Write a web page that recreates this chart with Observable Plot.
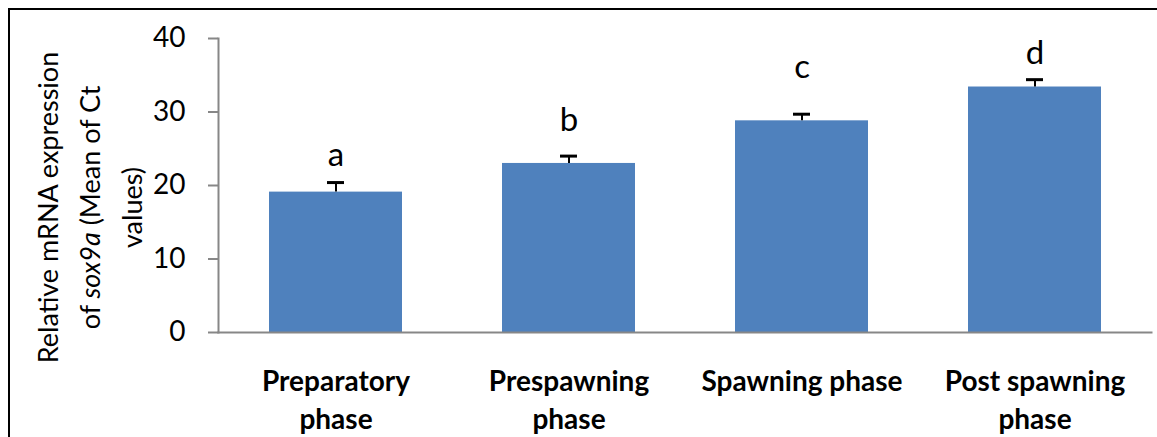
<!DOCTYPE html>
<html><head><meta charset="utf-8">
<script src="https://cdn.jsdelivr.net/npm/d3@7"></script>
<script src="https://cdn.jsdelivr.net/npm/@observablehq/plot@0.6"></script>
<style>
body{margin:0;background:#fff;}
#wrap{position:relative;width:1157px;height:437px;overflow:hidden;}
#frame{position:absolute;left:8px;top:8px;right:0;bottom:0;border-top:2px solid #000;border-left:2px solid #000;pointer-events:none;}
</style></head><body><div id="wrap"><div id="frame"></div></div>
<script>
const phases = ["Preparatory\nphase", "Prespawning\nphase", "Spawning phase", "Post spawning\nphase"];
const means = [19.1, 23.0, 28.8, 33.4];
const errors = [1.3, 1.0, 0.9, 1.0];
const letters = ["a", "b", "c", "d"];
const letterY = [23.1, 27.8, 35.0, 37.0];
const yTicks = [0, 10, 20, 30, 40];
const yLabelLines = ["Relative mRNA expression", "of sox9a (Mean of Ct", "values)"];

const data = phases.map((p, i) => ({phase: p, mean: means[i], err: errors[i], letter: letters[i], ly: letterY[i]}));
const axisGray = "#878787";

const chart = Plot.plot({
  width: 1157,
  height: 437,
  marginLeft: 218,
  marginRight: 6,
  marginTop: 38,
  marginBottom: 105,
  style: {fontFamily: "Lato, 'Open Sans', sans-serif", color: "#000", background: "transparent"},
  x: {domain: phases, paddingInner: 0.43, paddingOuter: 0.215},
  y: {domain: [0, 40]},
  marks: [
    Plot.barY(data, {x: "phase", y: "mean", fill: "#4F81BD"}),
    Plot.ruleX(data, {x: "phase", y1: "mean", y2: d => d.mean + d.err, stroke: "#000", strokeWidth: 2}),
    Plot.tickY(data, {x: "phase", y: d => d.mean + d.err, stroke: "#000", strokeWidth: 3, insetLeft: 58, insetRight: 58}),
    Plot.text(data, {x: "phase", y: "ly", text: "letter", lineAnchor: "bottom", fontSize: 33, fill: "#000", dy: 3}),
    Plot.axisY({ticks: yTicks, tickSize: 10, tickPadding: 23, fontSize: 28, stroke: axisGray, strokeWidth: 2, fill: "#000", label: null}),
    Plot.frame({anchor: "left", stroke: axisGray, strokeWidth: 2}),
    Plot.frame({anchor: "bottom", stroke: axisGray, strokeWidth: 2}),
    Plot.axisX({tickSize: 0, tickPadding: 31, fontSize: 28, fontWeight: "bold", lineHeight: 1.36, fill: "#000", label: null, tickFormat: d => d}),
    Plot.text([yLabelLines.join("\n")], {text: d => d, frameAnchor: "left", rotate: -90, dx: -132, dy: 22, fontSize: 27, lineHeight: 1.55, fill: "#000", textAnchor: "middle"})
  ]
});
document.getElementById("wrap").prepend(chart);

// italicize gene name
d3.select(chart).selectAll("tspan").each(function() {
  const t = this.textContent;
  if (t.includes("sox9a")) {
    const parts = t.split("sox9a");
    const sel = d3.select(this);
    sel.text(null);
    sel.append("tspan").text(parts[0]);
    sel.append("tspan").attr("font-style", "italic").text("sox9a");
    sel.append("tspan").text(parts[1]);
  }
});
</script>
</body></html>
